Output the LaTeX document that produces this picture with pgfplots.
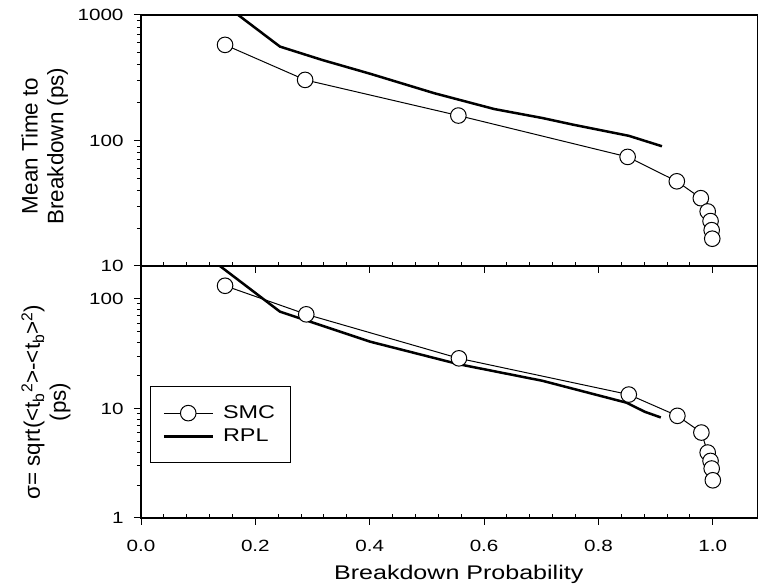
\documentclass[border=0pt]{standalone}
\usepackage{fontspec}
\setmainfont{Liberation Sans}[FakeStretch=1.27]
\newfontfamily\yfont{Liberation Sans}
\usepackage{pgfplots}
\usepackage{pgfplotstable}
\pgfplotsset{compat=1.18}

\pgfplotstableread{
x y
0.147 578
0.287 304
0.555 158
0.851 74
0.937 47.3
0.979 34.7
0.991 27.2
0.996 22.8
0.998 19.3
0.999 16.5
}\smctop

\pgfplotstableread{
x y
0.150 1170
0.170 1000
0.243 560
0.317 438
0.401 340
0.513 238
0.618 178
0.702 151
0.758 133
0.853 109
0.911 90
}\rpltop

\pgfplotstableread{
x y
0.147 132
0.289 72.4
0.556 28.7
0.853 13.4
0.938 8.57
0.980 6.03
0.991 3.96
0.996 3.32
0.998 2.83
1.000 2.21
}\smcbot

\pgfplotstableread{
x y
0.130 215
0.138 200
0.243 76.6
0.401 40.7
0.555 25.4
0.702 17.9
0.849 11.3
0.881 9.33
0.909 8.28
}\rplbot

\tikzset{
  smc/.style={black, line width=1bp, mark=*, mark size=7.8bp,
    mark options={fill=white, draw=black, line width=1bp}},
  rpl/.style={black, line width=2.5bp},
}

\begin{document}
\begin{tikzpicture}
\path[use as bounding box] (0,0) rectangle (758bp,588bp);
\begin{axis}[
  ymode=log,
  scale only axis, width=617bp,
  xmin=0, xmax=1.079,
  axis line style={line width=1.1bp},
  every tick/.style={black, line width=1bp},
  tick align=outside,
  major tick length=7bp, minor tick length=4bp,
  xtick={0,0.2,0.4,0.6,0.8,1.0}, minor x tick num=4,
  xtick pos=left, ytick pos=left,
  minor x tick style={yshift=4bp},
  log ticks with fixed point,
  tick label style={font=\fontsize{16.3}{18}\selectfont},
  /pgf/number format/assume math mode=true,
  /pgf/number format/1000 sep={},
  yticklabel style={xshift=-7bp},
  ylabel style={font=\yfont\fontsize{22.5}{26}\selectfont, align=center,
    at={(axis description cs:-0.156,0.478)}, anchor=center},
  at={(141bp,322bp)}, anchor=south west, height=251bp,
  ymin=10, ymax=1000, ytick={10,100,1000},
  xticklabels={},
  ylabel={Mean Time to\\Breakdown (ps)},
]
\addplot[smc] table {\smctop};
\addplot[rpl, no marks] table {\rpltop};
\end{axis}
\begin{axis}[
  ymode=log,
  scale only axis, width=617bp,
  xmin=0, xmax=1.079,
  axis line style={line width=1.1bp},
  every tick/.style={black, line width=1bp},
  tick align=outside,
  major tick length=7bp, minor tick length=4bp,
  xtick={0,0.2,0.4,0.6,0.8,1.0}, minor x tick num=4,
  xtick pos=left, ytick pos=left,
  minor x tick style={yshift=4bp},
  log ticks with fixed point,
  tick label style={font=\fontsize{16.3}{18}\selectfont},
  /pgf/number format/assume math mode=true,
  /pgf/number format/1000 sep={},
  xticklabel style={/pgf/number format/fixed, /pgf/number format/fixed zerofill, /pgf/number format/precision=1, yshift=-12bp},
  yticklabel style={xshift=-7bp},
  ylabel style={font=\yfont\fontsize{22.5}{26}\selectfont, align=center,
    at={(axis description cs:-0.154,0.46)}, anchor=center},
  at={(141bp,70bp)}, anchor=south west, height=252bp,
  ymin=1, ymax=200, ytick={1,10,100},
  xlabel={Breakdown Probability},
  xlabel style={font=\fontsize{19.8}{22}\selectfont, at={(axis description cs:0.515,0)}, anchor=center, yshift=-56bp},
  ylabel={σ= sqrt(<t\textsubscript{b}\textsuperscript{2}>-<t\textsubscript{b}>\textsuperscript{2})\\(ps)},
  legend style={at={(rel axis cs:0.0146,0.522)}, anchor=north west, draw=black, line width=1bp,
    font=\fontsize{18.5}{20}\selectfont, inner xsep=12bp, inner ysep=18bp, row sep=7bp, column sep=6bp,
    nodes={inner xsep=3bp, inner ysep=1bp}},
  legend cell align=left,
  legend image code/.code={\draw[mark repeat=2,mark phase=2,#1] plot coordinates {(0bp,0bp) (24.5bp,0bp) (49bp,0bp)};},
]
\addplot[smc] table {\smcbot};
\addlegendentry{SMC\hspace{2bp}}
\addplot[rpl, no marks] table {\rplbot};
\addlegendentry{RPL\hspace{2bp}}
\end{axis}
\end{tikzpicture}
\end{document}
